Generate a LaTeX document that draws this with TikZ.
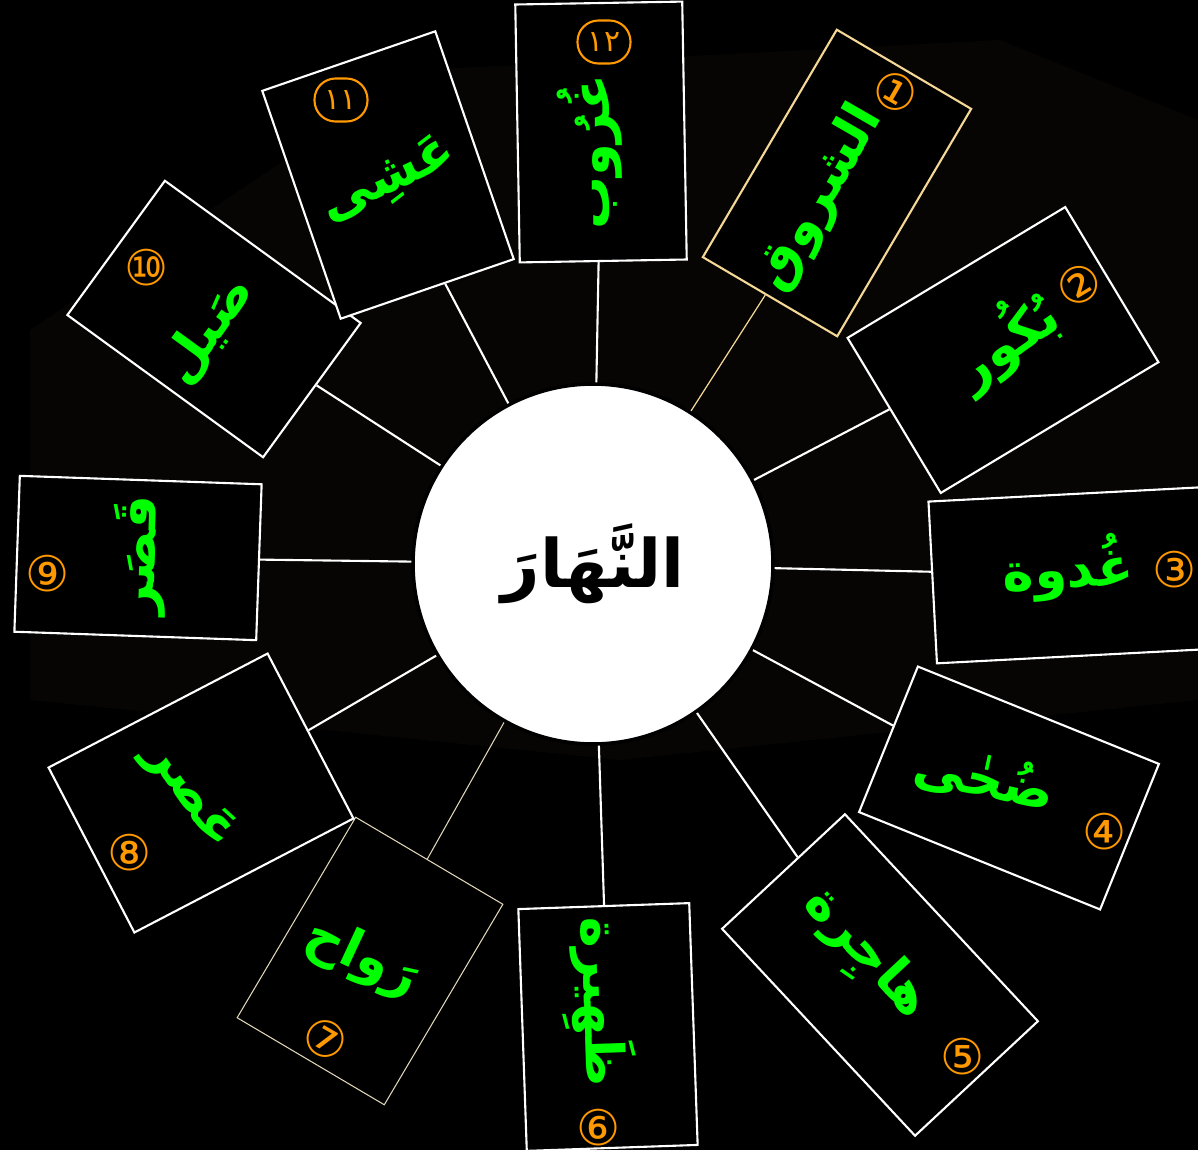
\documentclass[tikz,border=0pt]{standalone}
\usepackage{fontspec}
\setmainfont{DejaVu Sans}
\newfontfamily\arabicfont[Script=Arabic]{DejaVu Sans}
\TeXXeTstate=1
\newcommand\artext[1]{{\arabicfont\beginR #1\endR}}

\definecolor{wordgreen}{RGB}{0,255,0}
\definecolor{numorange}{RGB}{255,153,0}
\definecolor{cream}{RGB}{245,215,150}
\definecolor{paleline}{RGB}{225,215,185}
\definecolor{bgshade}{RGB}{6,5,4}

\begin{document}
\begin{tikzpicture}[x=0.02cm,y=-0.02cm,
    card/.style={draw=white,fill=black,line width=1.2pt,inner sep=0pt},
    word/.style={text=wordgreen,inner sep=0pt,font=\bfseries\fontsize{30}{36}\selectfont},
    num/.style={text=numorange,inner sep=0pt,font=\fontsize{28}{32}\selectfont},
    oval/.style={draw=numorange,text=numorange,line width=1.2pt,rounded corners=0.42cm,
        minimum width=1.06cm,minimum height=0.86cm,inner sep=0pt,font=\fontsize{17}{20}\selectfont},
    link/.style={draw=white,line width=1.2pt}]
    \useasboundingbox (0,0) rectangle (1198,1150);
    \clip (0,0) rectangle (1198,1150);
    \fill[black] (0,0) rectangle (1198,1150);
    \fill[bgshade] (30,330) -- (420,70) -- (1000,40) -- (1198,120) -- (1198,700) -- (620,760) -- (30,700) -- cycle;

    % the day, in the middle
    \node[circle,fill=white,draw=black,line width=2pt,minimum size=7.2cm,
        font=\bfseries\fontsize{38}{44}\selectfont] (hub) at (593,564) {\artext{النَّهَارَ}};

    % the twelve cards
    \node[card,draw=cream,minimum width=3.12cm,minimum height=5.28cm,rotate=-30.5] (c1) at (837,183) {};
    \node[card,minimum width=5.08cm,minimum height=3.62cm,rotate=31] (c2) at (1003,350) {};
    \node[card,minimum width=5.70cm,minimum height=3.24cm,rotate=3] (c3) at (1075,575) {};
    \node[card,minimum width=5.20cm,minimum height=3.14cm,rotate=-22] (c4) at (1009,788) {};
    \node[card,minimum width=5.66cm,minimum height=3.36cm,rotate=-47] (c5) at (880,975) {};
    \node[card,minimum width=3.42cm,minimum height=4.84cm,rotate=2] (c6) at (608,1027) {};
    \node[card,draw=paleline,line width=0.6pt,minimum width=3.42cm,minimum height=4.66cm,rotate=-30.6] (c7) at (370,961) {};
    \node[card,minimum width=4.94cm,minimum height=3.72cm,rotate=27.5] (c8) at (201,793) {};
    \node[card,minimum width=4.84cm,minimum height=3.12cm,rotate=-2] (c9) at (138,558) {};
    \node[card,minimum width=4.84cm,minimum height=3.32cm,rotate=-36] (c10) at (214,319) {};
    \node[card,minimum width=3.66cm,minimum height=4.82cm,rotate=19] (c11) at (388,175) {};
    \node[card,minimum width=3.34cm,minimum height=5.16cm,rotate=1] (c12) at (601,132) {};

    % words
    \node[word,rotate=60] (w1) at (820,198) {\artext{الشروق}};
    \node[word,rotate=35] (w2) at (1005,340) {\artext{بُكُور}};
    \node[word,rotate=3] (w3) at (1068,568) {\artext{غُدوة}};
    \node[word,rotate=-12] (w4) at (985,778) {\artext{ضُحٰى}};
    \node[word,rotate=-47] (w5) at (865,955) {\artext{هاجِرة}};
    \node[word,rotate=-88] (w6) at (598,1002) {\artext{ظَهِيرة}};
    \node[word,rotate=-25] (w7) at (362,958) {\artext{رَواح}};
    \node[word,rotate=-55] (w8) at (190,795) {\artext{عَصر}};
    \node[word,rotate=88] (w9) at (140,555) {\artext{قَصَر}};
    \node[word,rotate=54] (w10) at (208,330) {\artext{صَيل}};
    \node[word,rotate=25] (w11) at (388,180) {\artext{عَشِى}};
    \node[word,rotate=90] (w12) at (590,152) {\artext{غُرُوب}};

    % numbers
    \node[num,rotate=-30] (n1) at (896,92) {①};
    \node[num,rotate=31] (n2) at (1079,285) {②};
    \node[num] (n3) at (1175,570) {③};
    \node[num] (n4) at (1105,832) {④};
    \node[num] (n5) at (963,1057) {⑤};
    \node[num] (n6) at (599,1128) {⑥};
    \node[num,rotate=-30] (n7) at (326,1039) {⑦};
    \node[num] (n8) at (130,853) {⑧};
    \node[num] (n9) at (48,574) {⑨};
    \node[num] (n10) at (147,268) {⑩};
    \node[oval] (n11) at (341,100) {\arabicfont ١١};
    \node[oval] (n12) at (604,42) {\arabicfont ١٢};

    % links
    \draw[link,draw=cream,line width=0.7pt] (hub) -- (c1);
    \draw[link] (hub) -- (c2);
    \draw[link] (hub) -- (c3);
    \draw[link] (hub) -- (c4);
    \draw[link] (hub) -- (c5);
    \draw[link] (hub) -- (c6);
    \draw[link,draw=paleline,line width=0.6pt] (hub) -- (c7);
    \draw[link] (hub) -- (c8);
    \draw[link] (hub) -- (c9);
    \draw[link] (hub) -- (c10);
    \draw[link] (hub) -- (c11);
    \draw[link] (hub) -- (c12);
\end{tikzpicture}
\end{document}
